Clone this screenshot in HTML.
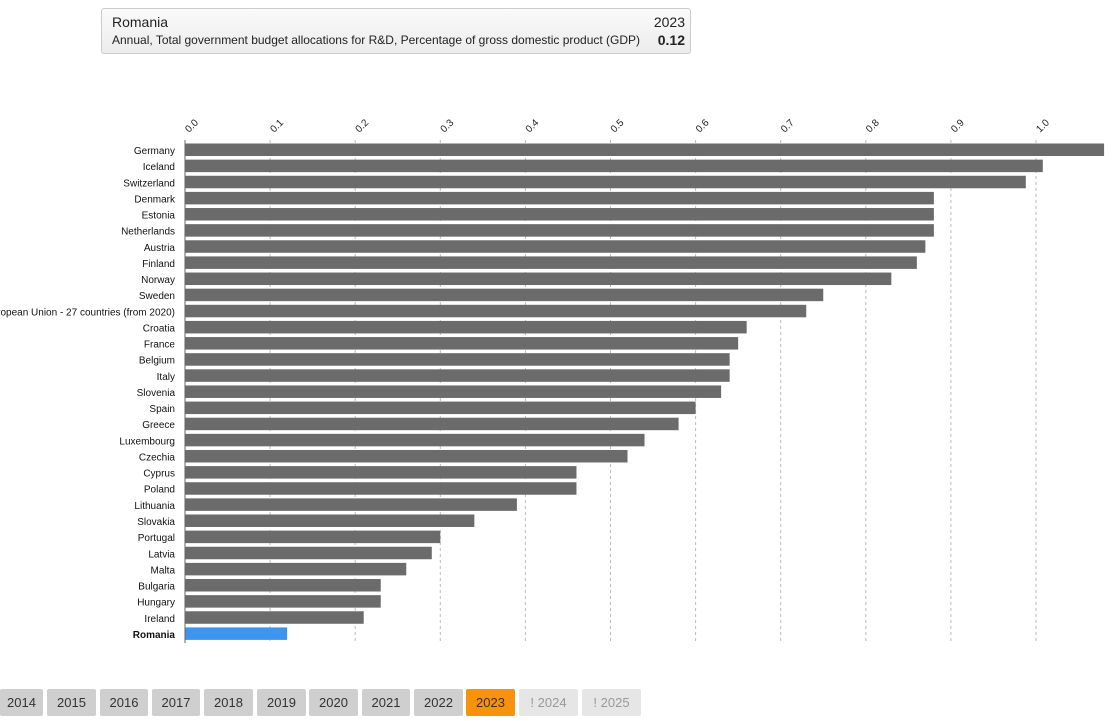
<!DOCTYPE html>
<html><head><meta charset="utf-8"><style>
body{margin:0;width:1119px;height:721px;overflow:hidden;background:#fff;font-family:"Liberation Sans",sans-serif;position:relative}
.box{position:absolute;left:101px;top:8px;width:590px;height:46px;border:1px solid #ccc;border-radius:3px;background:linear-gradient(#fafafa,#ececec);box-sizing:border-box}
.btn{position:absolute;top:689px;height:27px;line-height:27px;text-align:center;font-size:13px;color:#333;background:#cfcfcf;border-radius:2px}
</style></head><body>
<div class="box">
<div style="position:absolute;left:10px;top:5px;font-size:14px;color:#222">Romania</div>
<div style="position:absolute;left:10px;top:24px;font-size:12px;color:#222">Annual, Total government budget allocations for R&amp;D, Percentage of gross domestic product (GDP)</div>
<div style="position:absolute;right:5px;top:5px;font-size:14px;color:#222">2023</div>
<div style="position:absolute;right:5px;top:23px;font-size:14px;font-weight:bold;color:#222">0.12</div>
</div>
<svg width="1119" height="721" style="position:absolute;left:0;top:0" id="s"></svg>
<script>
const d=[["Germany",1.08],["Iceland",1.008],["Switzerland",0.988],["Denmark",0.88],["Estonia",0.88],["Netherlands",0.88],["Austria",0.87],["Finland",0.86],["Norway",0.83],["Sweden",0.75],["European Union - 27 countries (from 2020)",0.73],["Croatia",0.66],["France",0.65],["Belgium",0.64],["Italy",0.64],["Slovenia",0.63],["Spain",0.6],["Greece",0.58],["Luxembourg",0.54],["Czechia",0.52],["Cyprus",0.46],["Poland",0.46],["Lithuania",0.39],["Slovakia",0.34],["Portugal",0.3],["Latvia",0.29],["Malta",0.26],["Bulgaria",0.23],["Hungary",0.23],["Ireland",0.21],["Romania",0.12]];
const x0=185,k=851;let h='';
for(let i=1;i<=10;i++){const x=x0+i*k/10;h+=`<line x1="${x}" y1="140" x2="${x}" y2="643" stroke="#bbb" stroke-dasharray="3,3"/>`}
for(let i=0;i<=10;i++){const x=x0+i*k/10;h+=`<text x="${x+4}" y="133" font-size="10" fill="#222" transform="rotate(-45 ${x+4} 133)" text-anchor="start">${(i/10).toFixed(1)}</text>`}
d.forEach((r,i)=>{const y=150+i*16.13;const r2=r[0]=="Romania";
h+=`<rect x="${x0}" y="${y-6.5}" width="${r[1]*k}" height="12.5" fill="${r2?'#3d95f0':'#6b6b6b'}"/>`;
h+=`<text x="175" y="${y+4}" font-size="10" text-anchor="end" fill="#111" ${r2?'font-weight="bold"':''}>${r[0]}</text>`});
h+=`<line x1="${x0}" y1="140" x2="${x0}" y2="643" stroke="#666"/>`;
document.getElementById('s').innerHTML=h;
</script>
<div class="btn" style="left:0;width:43px">2014</div>
<div class="btn" style="left:47px;width:49px">2015</div>
<div class="btn" style="left:100px;width:48px">2016</div>
<div class="btn" style="left:152px;width:48px">2017</div>
<div class="btn" style="left:204px;width:49px">2018</div>
<div class="btn" style="left:257px;width:49px">2019</div>
<div class="btn" style="left:309px;width:49px">2020</div>
<div class="btn" style="left:362px;width:48px">2021</div>
<div class="btn" style="left:414px;width:49px">2022</div>
<div class="btn" style="left:466px;width:49px;background:#f7930a">2023</div>
<div class="btn" style="left:519px;width:59px;background:#e6e6e6;color:#999">! 2024</div>
<div class="btn" style="left:582px;width:59px;background:#e6e6e6;color:#999">! 2025</div>
</body></html>
